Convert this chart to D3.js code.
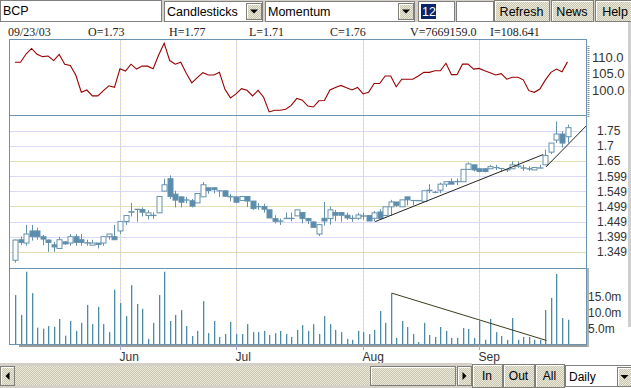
<!DOCTYPE html>
<html>
<head>
<meta charset="utf-8">
<script src="https://cdn.jsdelivr.net/npm/d3@7"></script>
<style>
body { margin: 0; background: #fff; }
svg { display: block; }
</style>
</head>
<body>
<svg id="viz" width="631" height="388"></svg>
<script>
var width = 631, height = 388

// daily bars, index 0 = first visible session (early May 2003)
var openP = [1.321,1.389,1.378,1.418,1.418,1.399,1.388,1.372,1.360,1.382,
 1.378,1.399,1.389,1.379,1.371,1.378,1.378,1.399,1.399,1.418,
 1.449,1.480,1.489,1.489,1.469,1.469,1.478,1.550,1.591,1.540,
 1.531,1.520,1.518,1.511,1.531,1.561,1.561,1.551,1.551,1.531,
 1.531,1.519,1.532,1.517,1.499,1.499,1.488,1.459,1.450,1.459,
 1.459,1.468,1.479,1.459,1.448,1.408,1.460,1.459,1.479,1.479,
 1.470,1.460,1.460,1.468,1.469,1.460,1.481,1.469,1.498,1.514,
 1.498,1.531,1.519,1.519,1.516,1.553,1.546,1.553,1.573,1.581,
 1.581,1.581,1.622,1.637,1.624,1.624,1.624,1.628,1.625,1.620,
 1.624,1.632,1.627,1.624,1.620,1.626,1.637,1.679,1.719,1.739,
 1.730]
var highP = [1.390,1.400,1.438,1.438,1.429,1.405,1.390,1.382,1.399,1.384,
 1.408,1.408,1.408,1.389,1.389,1.378,1.399,1.408,1.438,1.449,
 1.469,1.511,1.490,1.496,1.486,1.480,1.532,1.591,1.602,1.551,
 1.531,1.531,1.524,1.542,1.580,1.561,1.561,1.552,1.552,1.541,
 1.531,1.532,1.532,1.517,1.510,1.508,1.488,1.470,1.459,1.479,
 1.479,1.488,1.479,1.462,1.449,1.440,1.514,1.499,1.488,1.479,
 1.479,1.470,1.478,1.478,1.469,1.484,1.490,1.498,1.521,1.514,
 1.521,1.531,1.520,1.520,1.552,1.573,1.551,1.578,1.581,1.592,
 1.592,1.622,1.645,1.637,1.626,1.626,1.637,1.637,1.626,1.623,
 1.648,1.648,1.637,1.632,1.628,1.637,1.687,1.709,1.781,1.748,
 1.770]
var lowP = [1.313,1.371,1.369,1.386,1.389,1.371,1.349,1.349,1.360,1.372,
 1.369,1.369,1.369,1.369,1.371,1.360,1.369,1.389,1.389,1.408,
 1.438,1.466,1.449,1.466,1.456,1.458,1.478,1.550,1.524,1.496,
 1.496,1.510,1.496,1.511,1.531,1.541,1.542,1.531,1.531,1.516,
 1.511,1.519,1.497,1.488,1.488,1.479,1.461,1.443,1.438,1.459,
 1.450,1.468,1.443,1.441,1.430,1.401,1.436,1.439,1.450,1.448,
 1.455,1.448,1.455,1.455,1.451,1.450,1.459,1.467,1.469,1.498,
 1.498,1.503,1.503,1.517,1.516,1.543,1.543,1.543,1.564,1.573,
 1.570,1.581,1.620,1.615,1.612,1.612,1.624,1.620,1.615,1.613,
 1.624,1.627,1.617,1.617,1.620,1.626,1.637,1.673,1.709,1.695,
 1.710]
var closeP = [1.388,1.380,1.408,1.400,1.399,1.391,1.380,1.365,1.389,1.375,
 1.399,1.380,1.380,1.378,1.378,1.373,1.399,1.408,1.389,1.449,
 1.469,1.482,1.490,1.480,1.478,1.470,1.532,1.571,1.532,1.520,
 1.513,1.521,1.500,1.542,1.571,1.552,1.555,1.551,1.533,1.532,
 1.513,1.532,1.517,1.492,1.498,1.490,1.461,1.450,1.451,1.460,
 1.460,1.488,1.459,1.452,1.430,1.439,1.451,1.488,1.470,1.470,
 1.461,1.459,1.471,1.467,1.451,1.478,1.459,1.498,1.514,1.503,
 1.521,1.521,1.519,1.518,1.551,1.552,1.546,1.573,1.581,1.573,
 1.582,1.622,1.640,1.620,1.615,1.615,1.631,1.628,1.625,1.621,
 1.637,1.633,1.626,1.623,1.628,1.627,1.668,1.709,1.739,1.709,
 1.760]

// volume in millions
var volume = [15.4,9.2,22.7,16.0,5.2,4.9,5.7,5.5,7.9,2.7,
 7.3,4.2,6.7,12.3,6.3,11.7,6.3,3.8,17.1,12.9,
 8.8,18.5,12.6,11.1,1.7,6.7,15.4,22.7,7.3,9.2,
 10.7,5.7,2.6,4.2,13.5,3.5,7.3,2.3,3.2,7.0,
 3.2,3.2,6.3,3.8,3.8,4.2,2.9,3.5,4.2,3.2,
 2.3,4.5,6.0,4.2,6.3,3.2,8.8,6.3,4.5,3.8,
 1.7,1.4,4.2,3.8,3.2,4.5,10.4,6.7,16.0,2.0,
 7.3,5.4,3.2,0.7,6.7,2.9,2.3,5.4,4.2,2.0,
 2.0,5.1,4.8,2.0,7.3,1.4,7.9,3.8,2.6,1.4,
 8.2,1.4,2.3,2.3,1.4,1.4,10.7,14.5,22.0,8.2,
 7.67]

// momentum (12)
var momentum = [108.5,108.5,111.0,112.7,110.9,110.2,110.4,109.0,110.9,107.9,
 107.5,104.6,99.3,100.0,98.2,98.2,99.8,101.3,100.8,106.5,
 105.8,107.9,106.4,107.3,107.3,106.5,110.7,114.3,109.0,107.9,
 108.5,105.1,102.2,103.8,105.3,104.6,104.6,105.4,100.2,97.6,
 98.8,100.4,99.9,98.2,99.9,97.8,93.3,93.8,93.8,94.1,
 95.3,97.4,96.9,95.1,94.8,96.7,96.8,100.0,100.8,101.4,
 100.7,100.0,100.8,98.8,99.3,102.0,102.0,104.3,104.3,101.0,
 103.3,103.3,103.3,104.3,105.4,105.4,105.9,105.9,108.2,104.7,
 104.7,107.9,107.9,106.4,106.6,105.9,105.3,104.6,105.0,103.3,
 103.9,103.9,103.1,99.8,99.3,100.3,103.1,105.4,106.4,105.6,
 108.6]

var months = ['Jun', 'Jul', 'Aug', 'Sep']
var monthIdx = [19, 40, 63, 84]
var priceTicks = [1.75, 1.7, 1.65, 1.599, 1.549, 1.499, 1.449, 1.399, 1.349]
var momTicks = [110, 105, 100]
var volTicks = [15, 10, 5]

// user drawn trend lines [index, value]
var priceTrend = [[[65.2, 1.449], [95.6, 1.671]], [[96.1, 1.630], [103.4, 1.766]]]
var volTrend = [[68.2, 16.0], [96.2, 1.2]]

var infoText = ['09/23/03', 'O=1.73', 'H=1.77', 'L=1.71', 'C=1.76', 'V=7669159.0', 'I=108.641']
var infoX = [8, 88, 169, 249, 330, 410, 490]

var sans = 'Liberation Sans, Arial, sans-serif'
var blue = '#6a95b2'

var svg = d3.select('svg#viz')

// 2x2 dither like the old applet buttons
var defs = svg.append('defs')
var pat = defs.append('pattern').attr('id', 'dither')
  .attr('width', 2).attr('height', 2).attr('patternUnits', 'userSpaceOnUse')
pat.append('rect').attr('width', 2).attr('height', 2).attr('fill', '#c8c4b2')
pat.append('rect').attr('width', 1).attr('height', 1).attr('fill', '#ecead8')
pat.append('rect').attr('x', 1).attr('y', 1).attr('width', 1).attr('height', 1).attr('fill', '#ecead8')

svg.append('rect').attr('width', width).attr('height', height).attr('fill', '#fff')

// scales
var x = d3.scaleLinear().domain([0, 100]).range([15, 567.5])
var yMom = d3.scaleLinear().domain([92.2, 115.6]).range([115.5, 39])
var yPrice = d3.scaleLinear().domain([1.2937, 1.8003]).range([268.5, 115.5])
var yVol = d3.scaleLinear().domain([0, 23.7]).range([344.3, 268.5])

// ---- toolbar ----
var bar = svg.append('g')
bar.append('rect').attr('width', width).attr('height', 22).attr('fill', '#d4d0c8')

function box(x0, y0, w, h) {
  bar.append('rect').attr('x', x0 + 0.5).attr('y', y0 + 0.5).attr('width', w).attr('height', h)
    .attr('fill', '#fff').attr('stroke', '#808080')
}
function label(g, x0, y0, txt, size, anchor, color) {
  g.append('text').attr('x', x0).attr('y', y0).text(txt)
    .style('font-family', sans).style('font-size', size + 'px')
    .attr('text-anchor', anchor || 'start').attr('fill', color || '#000')
}
function button(g, x0, y0, w, h, txt, size, ty) {
  g.append('rect').attr('x', x0 + 0.5).attr('y', y0 + 0.5).attr('width', w).attr('height', h)
    .attr('fill', 'url(#dither)').attr('stroke', '#7f7f78')
  g.append('path').attr('d', `M${x0 + 1.5},${y0 + h - 0.5}V${y0 + 1.5}H${x0 + w - 0.5}`)
    .attr('fill', 'none').attr('stroke', '#fff')
  if (txt) label(g, x0 + w / 2, ty, txt, size, 'middle')
}
function arrowBtn(g, x0, y0, w, h, dir) {
  button(g, x0, y0, w, h)
  var cx = x0 + w / 2 + 0.5, cy = y0 + h / 2 + 0.5
  var d = dir == 'down' ? `M${cx - 4},${cy - 2}h8l-4,4z`
    : dir == 'left' ? `M${cx + 2},${cy - 4}v8l-4,-4z` : `M${cx - 2},${cy - 4}v8l4,-4z`
  g.append('path').attr('d', d).attr('fill', '#000')
}

box(0, 0, 161, 21)
label(bar, 3, 15, 'BCP', 12.5)
box(164, 1, 98, 20)
label(bar, 167, 16, 'Candlesticks', 12.5)
arrowBtn(bar, 246, 3, 15, 16, 'down')
box(265, 1, 149, 20)
label(bar, 268, 16, 'Momentum', 12.5)
arrowBtn(bar, 398, 3, 15, 16, 'down')
box(418, 1, 36, 20)
bar.append('rect').attr('x', 421).attr('y', 4).attr('width', 15).attr('height', 15).attr('fill', '#0a246a')
label(bar, 422, 16, '12', 12.5, 'start', '#fff')
box(456, 1, 37, 20)
button(bar, 494, 0, 55, 21, 'Refresh', 12.5, 16)
button(bar, 551, 0, 42, 21, 'News', 12.5, 16)
button(bar, 595, 0, 40, 21, 'Help', 12.5, 16)

// ---- info row ----
svg.append('g').selectAll('text').data(infoText).enter().append('text')
  .attr('x', function(d, i) { return infoX[i] }).attr('y', 36)
  .text(function(d) { return d })
  .style('font-family', 'Liberation Serif, Times New Roman, serif').style('font-size', '12px')
  .attr('fill', '#222')

// ---- grid ----
var grid = svg.append('g')
grid.selectAll('line.h').data(priceTicks).enter().append('line')
  .attr('x1', 10).attr('x2', 586)
  .attr('y1', function(d) { return Math.round(yPrice(d)) + 0.5 })
  .attr('y2', function(d) { return Math.round(yPrice(d)) + 0.5 })
  .attr('stroke', function(d, i) { return i % 3 == 2 ? '#e2dfb4' : '#d9d9fb' })

grid.selectAll('line.v').data(monthIdx).enter().append('line')
  .attr('x1', function(d) { return Math.round(x(d)) + 0.5 })
  .attr('x2', function(d) { return Math.round(x(d)) + 0.5 })
  .attr('y1', 39).attr('y2', 345)
  .attr('stroke', '#e4e0bc')
grid.selectAll('line.vd').data(monthIdx).enter().append('line')
  .attr('x1', function(d) { return Math.round(x(d)) + 0.5 })
  .attr('x2', function(d) { return Math.round(x(d)) + 0.5 })
  .attr('y1', 39).attr('y2', 345)
  .attr('stroke', '#cfd0f4').attr('stroke-dasharray', '2,2')

// ---- momentum ----
svg.append('path').datum(momentum)
  .attr('d', d3.line().x(function(d, i) { return x(i) }).y(function(d) { return yMom(d) }))
  .attr('fill', 'none').attr('stroke', '#990000').attr('stroke-width', 1.1)

// ---- candles ----
var idx = d3.range(openP.length)
var candle = svg.append('g').selectAll('g').data(idx).enter().append('g')
candle.append('line')
  .attr('x1', function(i) { return Math.round(x(i)) + 0.5 })
  .attr('x2', function(i) { return Math.round(x(i)) + 0.5 })
  .attr('y1', function(i) { return yPrice(highP[i]) })
  .attr('y2', function(i) { return yPrice(lowP[i]) })
  .attr('stroke', '#6592ab')
candle.append('rect')
  .attr('x', function(i) { return Math.round(x(i)) - 2 })
  .attr('width', 5)
  .attr('y', function(i) { return yPrice(Math.max(openP[i], closeP[i])) })
  .attr('height', function(i) { return Math.max(0.1, yPrice(Math.min(openP[i], closeP[i])) - yPrice(Math.max(openP[i], closeP[i]))) })
  .attr('fill', function(i) { return closeP[i] >= openP[i] ? '#fff' : '#5a8cb0' })
  .attr('stroke', '#6592ab')

// ---- volume ----
svg.append('g').selectAll('rect').data(volume).enter().append('rect')
  .attr('x', function(d, i) { return Math.round(x(i)) })
  .attr('width', 1.3)
  .attr('y', function(d) { return yVol(d) })
  .attr('height', function(d) { return yVol(0) - yVol(d) })
  .attr('fill', '#4b8ba4')

// ---- trend lines ----
var tl = d3.line().x(function(d) { return x(d[0]) }).y(function(d) { return yPrice(d[1]) })
svg.append('g').selectAll('path').data(priceTrend).enter().append('path')
  .attr('d', tl).attr('fill', 'none').attr('stroke', '#222').attr('stroke-width', 1)
svg.append('path').datum(volTrend)
  .attr('d', d3.line().x(function(d) { return x(d[0]) }).y(function(d) { return yVol(d[1]) }))
  .attr('fill', 'none').attr('stroke', '#3c3c1c').attr('stroke-width', 1)

// ---- frame ----
var frame = svg.append('g').attr('fill', 'none')
frame.append('rect').attr('x', 9.5).attr('y', 39.5).attr('width', 577).attr('height', 305)
  .attr('stroke', blue)
frame.append('line').attr('x1', 9.5).attr('x2', 586.5).attr('y1', 115.5).attr('y2', 115.5).attr('stroke', blue)
frame.append('line').attr('x1', 9.5).attr('x2', 586.5).attr('y1', 268.5).attr('y2', 268.5).attr('stroke', blue)
frame.append('line').attr('x1', 19).attr('x2', 589).attr('y1', 346).attr('y2', 346)
  .attr('stroke', '#9a9a9a').attr('stroke-width', 2)
frame.append('line').attr('x1', 588.5).attr('x2', 588.5).attr('y1', 46).attr('y2', 118)
  .attr('stroke', '#8a8a8a').attr('stroke-width', 2).attr('stroke-dasharray', '1,1')
frame.append('line').attr('x1', 588).attr('x2', 588).attr('y1', 268).attr('y2', 347)
  .attr('stroke', '#b4b4b4').attr('stroke-width', 2)
svg.append('rect').attr('x', 628).attr('y', 22).attr('width', 3).attr('height', 305).attr('fill', '#cfcfcf')

// ---- axes ----
function styleAxis(g, size) {
  g.select('.domain').remove()
  g.selectAll('text').style('font-family', sans).style('font-size', size + 'px').attr('fill', '#333')
}
svg.append('g').attr('transform', 'translate(587,0)')
  .call(d3.axisRight(yMom).tickValues(momTicks).tickFormat(d3.format('.1f')).tickSize(0).tickPadding(5))
  .call(styleAxis, 13)
svg.append('g').attr('transform', 'translate(587,0)')
  .call(d3.axisRight(yPrice).tickValues(priceTicks).tickFormat(function(d) { return String(d) }).tickSize(0).tickPadding(10))
  .call(styleAxis, 12)
svg.append('g').attr('transform', 'translate(587,0)')
  .call(d3.axisRight(yVol).tickValues(volTicks).tickFormat(function(d) { return d.toFixed(1) + 'm' }).tickSize(0).tickPadding(1))
  .call(styleAxis, 12)

var xAxis = svg.append('g').attr('transform', 'translate(0,345)')
  .call(d3.axisBottom(x).tickValues(monthIdx).tickFormat(function(d, i) { return months[i] }).tickSize(5).tickPadding(2))
xAxis.select('.domain').remove()
xAxis.selectAll('.tick').attr('transform', function(d) { return 'translate(' + (Math.round(x(d)) + 0.5) + ',0)' })
xAxis.selectAll('line').attr('stroke', '#9aa6d8')
xAxis.selectAll('text').attr('text-anchor', 'start').attr('x', -1)
  .style('font-family', sans).style('font-size', '12px').attr('fill', '#333')

// ---- bottom scroll bar and buttons ----
var bot = svg.append('g')
bot.append('rect').attr('x', 0).attr('y', 363).attr('width', 472).attr('height', 25).attr('fill', '#d4d0c8')
bot.append('rect').attr('x', 14).attr('y', 366).attr('width', 443).attr('height', 19).attr('fill', 'url(#dither)')
arrowBtn(bot, 0, 366, 14, 19, 'left')
button(bot, 370, 366, 85, 19)
arrowBtn(bot, 457, 366, 14, 19, 'right')
button(bot, 472, 364, 30, 23, 'In', 12, 380)
button(bot, 503, 364, 31, 23, 'Out', 12, 380)
button(bot, 535, 364, 29, 23, 'All', 12, 380)
bot.append('rect').attr('x', 565.5).attr('y', 365.5).attr('width', 66).attr('height', 21)
  .attr('fill', '#fff').attr('stroke', '#808080')
label(bot, 569, 381, 'Daily', 12)
arrowBtn(bot, 617, 367, 14, 19, 'down')
</script>
</body>
</html>
